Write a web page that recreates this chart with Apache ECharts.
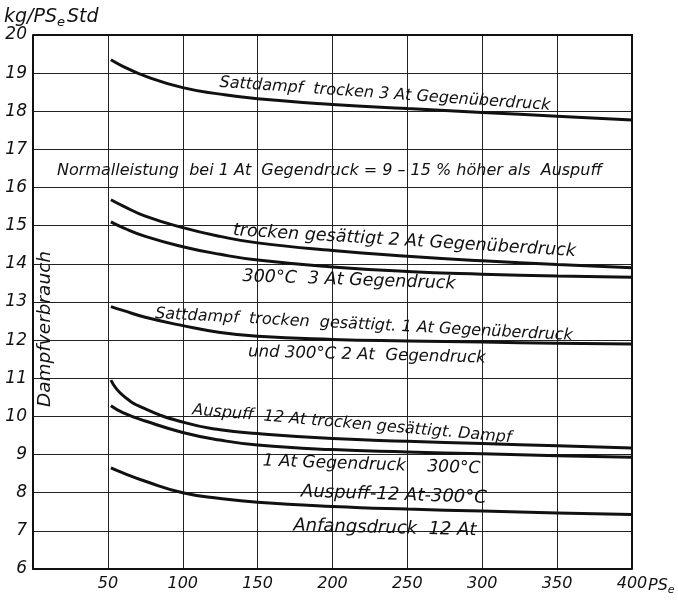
<!DOCTYPE html>
<html>
<head>
<meta charset="utf-8">
<script src="https://cdn.jsdelivr.net/npm/echarts@6/dist/echarts.min.js"></script>
<style>
  html, body { margin: 0; padding: 0; background: #fff; }
  #chart { width: 678px; height: 601px; }
</style>
</head>
<body>
<div id="chart"></div>
<script>
// Effective output (PS_e) at which each consumption curve is read
const loads = [52, 60, 75, 100, 125, 150, 200, 250, 300, 350, 400];

// Steam consumption, kg per PS_e-hour
const sattdampf3AtGegenueber = [19.35, 19.18, 18.92, 18.62, 18.45, 18.33, 18.18, 18.07, 17.97, 17.87, 17.77];
const trocken2AtGegenueber   = [15.68, 15.52, 15.25, 14.95, 14.72, 14.55, 14.35, 14.20, 14.08, 13.98, 13.90];
const heiss300C3AtGegen      = [15.10, 14.95, 14.72, 14.45, 14.25, 14.10, 13.92, 13.80, 13.73, 13.68, 13.65];
const sattdampf1AtGegenueber = [12.88, 12.78, 12.60, 12.38, 12.20, 12.10, 12.02, 11.98, 11.95, 11.92, 11.90];
const auspuff12AtSatt        = [10.95, 10.55, 10.20, 9.85, 9.65, 9.55, 9.42, 9.35, 9.29, 9.23, 9.17];
const gegen1At300C           = [10.28, 10.10, 9.88, 9.58, 9.38, 9.25, 9.13, 9.07, 9.02, 8.97, 8.93];
const auspuff12At300C        = [8.65, 8.52, 8.30, 8.00, 7.85, 7.75, 7.64, 7.57, 7.52, 7.47, 7.43];

const curves = [sattdampf3AtGegenueber, trocken2AtGegenueber, heiss300C3AtGegen,
  sattdampf1AtGegenueber, auspuff12AtSatt, gegen1At300C, auspuff12At300C];

// Axis ticks
const xTicks = [0, 50, 100, 150, 200, 250, 300, 350, 400];
const yTicks = [6, 7, 8, 9, 10, 11, 12, 13, 14, 15, 16, 17, 18, 19, 20];

// Curve captions: text and anchor (load, consumption)
const captionTexts = [
  'Sattdampf  trocken 3 At Gegenüberdruck',
  'Normalleistung  bei 1 At  Gegendruck = 9 – 15 % höher als  Auspuff',
  'trocken gesättigt 2 At Gegenüberdruck',
  '300°C  3 At Gegendruck',
  'Sattdampf  trocken  gesättigt. 1 At Gegenüberdruck',
  'und 300°C 2 At  Gegendruck',
  'Auspuff  12 At trocken gesättigt. Dampf',
  '1 At Gegendruck    300°C',
  'Auspuff-12 At-300°C',
  'Anfangsdruck  12 At'
];
const captionLoads = [235, 198, 248, 211, 221, 223, 213, 226, 241, 235];
const captionValues = [18.45, 16.43, 14.60, 13.57, 12.40, 11.61, 9.80, 8.73, 7.94, 7.07];

// Caption styling: tilt in degrees and font size
const captionTilt = [-4, 0, -3.5, -2, -3, -1.5, -5, -2, -2, -1.5];
const captionSize = [16, 16, 17.5, 17.5, 16, 16.5, 16, 17, 18, 18];

const FONT = 'DejaVu Sans';
const INK = '#111';

const chart = echarts.init(document.getElementById('chart'), null, { renderer: 'canvas' });

const series = curves.map(vals => ({
  type: 'line',
  data: loads.map((x, i) => [x, vals[i]]),
  smooth: 0.5,
  symbol: 'none',
  lineStyle: { color: INK, width: 3 },
  silent: true
}));

chart.setOption({
  animation: false,
  backgroundColor: '#fff',
  grid: { left: 33, right: 46, top: 35, bottom: 32, show: false },
  xAxis: {
    type: 'value',
    min: xTicks[0], max: xTicks[xTicks.length - 1], interval: 50,
    axisLine: { show: true, lineStyle: { color: INK, width: 2 } },
    axisTick: { show: false },
    splitLine: { show: true, lineStyle: { color: '#222', width: 1 } },
    axisLabel: {
      margin: 7,
      fontFamily: FONT, fontStyle: 'italic', fontSize: 16, color: INK,
      formatter: v => (v === 0 ? '' : String(v))
    }
  },
  yAxis: {
    type: 'value',
    min: yTicks[0], max: yTicks[yTicks.length - 1], interval: 1,
    axisLine: { show: true, lineStyle: { color: INK, width: 2 } },
    axisTick: { show: false },
    splitLine: { show: true, lineStyle: { color: '#222', width: 1 } },
    axisLabel: {
      margin: 6,
      fontFamily: FONT, fontStyle: 'italic', fontSize: 17, color: INK
    }
  },
  series: series
});

// Frame on the right and top of the plot
const p00 = chart.convertToPixel({ gridIndex: 0 }, [0, 6]);
const p11 = chart.convertToPixel({ gridIndex: 0 }, [400, 20]);

const graphics = [
  {
    type: 'polyline', silent: true,
    shape: { points: [[p00[0], p11[1]], [p11[0], p11[1]], [p11[0], p00[1]]] },
    style: { stroke: INK, lineWidth: 2, fill: null }
  },
  {
    type: 'text', silent: true,
    x: 4, y: 5,
    style: {
      text: '{a|kg/PS}{b|e}{a|Std}',
      rich: {
        a: { fontFamily: FONT, fontStyle: 'italic', fontSize: 19, fill: INK },
        b: { fontFamily: FONT, fontStyle: 'italic', fontSize: 13, fill: INK, padding: [11, 2, 0, 0] }
      }
    }
  },
  {
    type: 'text', silent: true,
    x: 45, y: 329, rotation: Math.PI / 2,
    style: {
      text: 'Dampfverbrauch',
      fontFamily: FONT, fontStyle: 'italic', fontSize: 18.5, fill: INK,
      align: 'center', verticalAlign: 'middle'
    }
  },
  {
    type: 'text', silent: true,
    x: p11[0] + 16, y: p00[1] + 7,
    style: {
      text: '{a|PS}{b|e}',
      rich: {
        a: { fontFamily: FONT, fontStyle: 'italic', fontSize: 16, fill: INK },
        b: { fontFamily: FONT, fontStyle: 'italic', fontSize: 11, fill: INK, padding: [9, 0, 0, 0] }
      }
    }
  }
];

captionTexts.forEach((t, i) => {
  const p = chart.convertToPixel({ gridIndex: 0 }, [captionLoads[i], captionValues[i]]);
  graphics.push({
    type: 'text', silent: true,
    x: p[0], y: p[1],
    rotation: captionTilt[i] * Math.PI / 180,
    style: {
      text: t,
      fontFamily: FONT, fontStyle: 'italic', fontSize: captionSize[i], fill: INK,
      align: 'center', verticalAlign: 'middle'
    }
  });
});

chart.setOption({ graphic: graphics });
</script>
</body>
</html>
